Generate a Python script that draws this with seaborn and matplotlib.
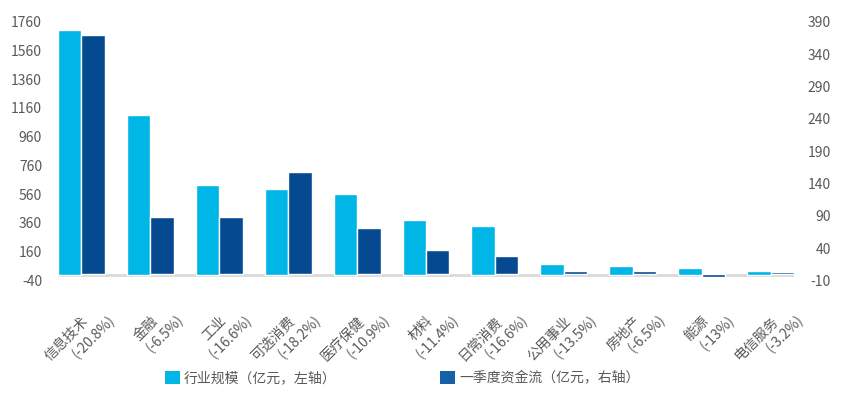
import matplotlib
matplotlib.use("Agg")
import matplotlib.pyplot as plt
from matplotlib.patches import Patch
import seaborn as sns
import pandas as pd

sns.set_theme(style="white")
plt.rcParams['font.family'] = ['Noto Sans CJK SC', 'DejaVu Sans']

# ---- data ----
categories = ["信息技术", "金融", "工业", "可选消费", "医疗保健", "材料",
              "日常消费", "公用事业", "房地产", "能源", "电信服务"]
pct_labels = ["(-20.8%)", "(-6.5%)", "(-16.6%)", "(-18.2%)", "(-10.9%)", "(-11.4%)",
              "(-16.6%)", "(-13.5%)", "(-6.5%)", "(-13%)", "(-3.2%)"]
industry_size = [1700, 1111, 624, 597, 559, 383, 341, 75, 61, 47, 26]   # 左轴
q1_flow = [369, 88, 88, 157, 71, 37, 28, 4.6, 4.6, -5, 3]                # 右轴
series_names = ["行业规模（亿元，左轴）", "一季度资金流（亿元，右轴）"]
left_ticks = [-40, 160, 360, 560, 760, 960, 1160, 1360, 1560, 1760]
right_ticks = [-10, 40, 90, 140, 190, 240, 290, 340, 390]

light = "#00B6E6"
dark = "#054A91"
txt = "#595959"

df_left = pd.DataFrame({"cat": categories, "val": industry_size, "series": series_names[0]})
df_right = pd.DataFrame({"cat": categories, "val": q1_flow, "series": series_names[1]})

fig = plt.figure(figsize=(8.48, 3.97), dpi=100)
ax = fig.add_axes([58/848, 1-280.5/397, (794-58)/848, (280.5-21.7)/397])
ax2 = ax.twinx()

pal = {series_names[0]: light, series_names[1]: dark}
sns.barplot(data=df_left, x="cat", y="val", hue="series", hue_order=series_names,
            order=categories, palette=pal, width=0.68, gap=0, dodge=True,
            saturation=1, legend=False, ax=ax, zorder=3)
sns.barplot(data=df_right, x="cat", y="val", hue="series", hue_order=series_names,
            order=categories, palette=pal, width=0.68, gap=0, dodge=True,
            saturation=1, legend=False, ax=ax2, zorder=3)

for a in (ax, ax2):
    a.set_xlim(-0.34, len(categories) - 1 + 0.34)
    a.set_xlabel("")
    a.set_ylabel("")
    for s in a.spines.values():
        s.set_visible(False)
    a.grid(False)

ax.set_ylim(-40, 1760)
ax2.set_ylim(-10, 390)
ax.axhline(0, color="#D9D9D9", lw=2, zorder=1)

ax.set_yticks(left_ticks)
ax.set_yticklabels([str(t) for t in left_ticks], color=txt, fontsize=10)
ax.tick_params(axis="y", length=0, pad=11.5)
ax2.set_yticks(right_ticks)
ax2.set_yticklabels([str(t) for t in right_ticks], color=txt, fontsize=10, ha="right")
ax2.tick_params(axis="y", length=0, pad=26.6)

ax.set_xticks(range(len(categories)))
ax.set_xticklabels([])
ax.tick_params(axis="x", length=0)
ax2.tick_params(axis="x", length=0)

for i, (c, p) in enumerate(zip(categories, pct_labels)):
    ax.annotate(c, xy=(i, 0), xycoords="data", xytext=(3.6, -31.7),
                textcoords="offset points", rotation=45, rotation_mode="anchor",
                ha="right", va="center", fontsize=10, color=txt, annotation_clip=False)
    ax.annotate(p, xy=(i, 0), xycoords="data", xytext=(22.3, -31.0),
                textcoords="offset points", rotation=45, rotation_mode="anchor",
                ha="right", va="center", fontsize=10, color=txt, annotation_clip=False)

handles = [Patch(facecolor=light, edgecolor="none"), Patch(facecolor="#1660A8", edgecolor="none")]
fig.legend(handles, series_names, loc="center", bbox_to_anchor=(402/848, 1-378/397),
           ncol=2, frameon=False, fontsize=10, labelcolor=txt,
           handlelength=1.1, handleheight=1.1, handletextpad=0.3, columnspacing=7.4)

fig.savefig("out.png", dpi=100)
